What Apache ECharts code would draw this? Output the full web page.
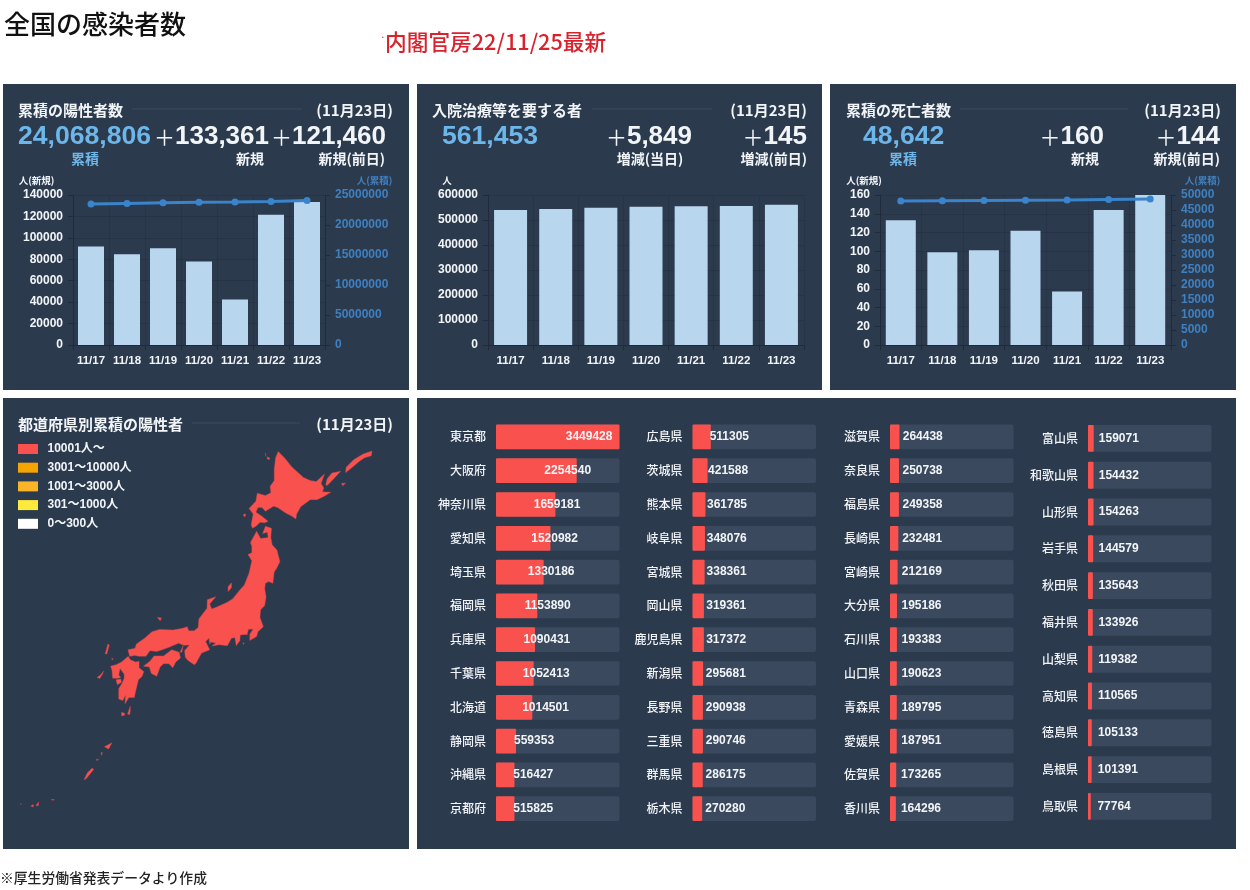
<!DOCTYPE html>
<html lang="ja"><head><meta charset="utf-8">
<style>html,body{margin:0;padding:0;background:#fff}#c{width:1250px;height:890px}</style>
<script src="https://cdn.jsdelivr.net/npm/echarts@6/dist/echarts.min.js"></script></head>
<body><div id="c"></div>
<script>
const dates=['11/17','11/18','11/19','11/20','11/21','11/22','11/23'];
const newCases=[92000,84600,90200,78000,42500,121460,133361];
const totalCases=[23518685,23603285,23693485,23771485,23813985,23935445,24068806];
const inpatients=[540000,544000,549300,553000,555459,555604,561453];
const newDeaths=[133,99,101,122,57,144,160];
const totalDeaths=[47959,48058,48159,48281,48338,48482,48642];

const col1Names=['東京都','大阪府','神奈川県','愛知県','埼玉県','福岡県','兵庫県','千葉県','北海道','静岡県','沖縄県','京都府'];
const col1Values=[3449428,2254540,1659181,1520982,1330186,1153890,1090431,1052413,1014501,559353,516427,515825];
const col2Names=['広島県','茨城県','熊本県','岐阜県','宮城県','岡山県','鹿児島県','新潟県','長野県','三重県','群馬県','栃木県'];
const col2Values=[511305,421588,361785,348076,338361,319361,317372,295681,290938,290746,286175,270280];
const col3Names=['滋賀県','奈良県','福島県','長崎県','宮崎県','大分県','石川県','山口県','青森県','愛媛県','佐賀県','香川県'];
const col3Values=[264438,250738,249358,232481,212169,195186,193383,190623,189795,187951,173265,164296];
const col4Names=['富山県','和歌山県','山形県','岩手県','秋田県','福井県','山梨県','高知県','徳島県','島根県','鳥取県'];
const col4Values=[159071,154432,154263,144579,135643,133926,119382,110565,105133,101391,77764];

const hokkaido=[[[141.94,45.52],[142.4,45.2],[142.95,44.72],[143.8,44.17],[144.3,44.0],[144.75,43.95],[145.05,44.15],[145.35,44.35],[145.1,43.85],[145.3,43.6],[145.2,43.4],[145.82,43.38],[145.3,43.15],[144.8,42.98],[144.3,42.98],[143.6,42.6],[143.3,42.2],[143.25,41.93],[142.9,42.1],[142.5,42.25],[141.9,42.55],[141.6,42.62],[141.0,42.35],[140.75,42.55],[140.45,42.55],[140.3,42.3],[140.7,42.1],[141.2,41.8],[140.95,41.72],[140.6,41.75],[140.35,41.55],[140.05,41.42],[139.95,41.6],[140.1,42.2],[139.8,42.5],[140.3,42.9],[140.4,43.33],[141.0,43.2],[141.4,43.35],[141.35,43.7],[141.65,44.0],[141.65,44.6],[141.75,45.2]],
[[141.15,45.25],[141.33,45.18],[141.27,45.1],[141.12,45.15]],[[141.0,45.45],[141.07,45.4],[141.03,45.27],[140.97,45.3]],[[139.4,42.2],[139.55,42.2],[139.5,42.05],[139.4,42.08]],
[[145.45,43.8],[145.55,44.1],[145.9,44.4],[146.55,44.5],[146.1,44.15],[145.7,43.85],[145.5,43.72]],
[[146.9,44.42],[146.95,44.7],[147.5,45.1],[148.2,45.4],[148.85,45.55],[148.8,45.3],[148.3,45.2],[147.9,45.0],[147.4,44.7]],
[[146.6,43.85],[146.9,43.87],[146.7,43.72]]];
const honshu=[[[141.0,41.53],[141.45,41.42],[141.4,40.9],[141.5,40.5],[141.85,40.2],[141.95,39.9],[142.07,39.55],[141.85,39.2],[141.65,38.95],[141.55,38.3],[141.25,38.4],[141.0,38.3],[140.95,38.0],[141.05,37.5],[140.95,37.0],[140.65,36.75],[140.6,36.3],[140.85,35.75],[140.45,35.45],[140.35,35.15],[139.85,34.92],[139.85,35.3],[140.1,35.6],[139.75,35.6],[139.65,35.25],[139.55,35.28],[139.15,35.25],[139.12,34.9],[138.85,34.6],[138.75,35.1],[138.5,35.05],[138.2,34.6],[137.6,34.66],[137.05,34.58],[137.35,34.77],[136.98,34.82],[136.9,34.7],[136.85,35.05],[136.6,34.85],[136.9,34.35],[136.5,34.22],[136.3,34.15],[135.9,33.55],[135.77,33.43],[135.3,33.7],[135.1,33.9],[135.05,34.3],[135.4,34.65],[135.0,34.62],[134.6,34.75],[133.9,34.5],[133.4,34.35],[133.0,34.25],[132.5,34.3],[132.2,33.95],[131.7,33.95],[131.4,34.0],[131.0,33.95],[130.88,34.35],[131.4,34.45],[131.5,34.7],[132.1,35.05],[132.65,35.45],[133.2,35.58],[134.2,35.55],[134.9,35.65],[135.25,35.75],[135.35,35.5],[135.75,35.5],[136.05,35.7],[136.1,36.2],[136.7,36.85],[136.72,37.35],[137.35,37.52],[136.9,37.1],[137.05,36.8],[137.5,36.95],[138.2,37.2],[138.6,37.4],[139.1,37.9],[139.45,38.2],[139.8,38.9],[140.0,39.6],[139.72,39.95],[140.0,40.05],[140.0,40.4],[139.9,40.62],[140.35,41.25],[140.65,40.85],[141.2,40.9],[141.15,41.2],[140.8,41.12]],
[[138.25,38.1],[138.5,38.33],[138.5,38.05],[138.25,37.82]],[[133.05,36.3],[133.35,36.27],[133.25,36.1]],[[134.95,34.6],[135.02,34.55],[134.85,34.2],[134.72,34.22]],[[139.35,34.78],[139.45,34.75],[139.38,34.68]]];
const shikoku=[[[132.02,33.35],[132.5,33.65],[132.8,33.98],[133.5,33.98],[134.1,34.35],[134.65,34.2],[134.75,33.85],[134.4,33.6],[134.18,33.25],[133.9,33.5],[133.5,33.5],[133.25,33.3],[133.0,32.72],[132.6,32.9],[132.45,33.3]]];
const kyushu=[[[130.9,33.95],[131.05,33.75],[131.45,33.6],[131.7,33.65],[131.7,33.25],[132.05,33.0],[131.9,32.7],[131.65,32.5],[131.45,31.8],[131.35,31.4],[130.95,31.4],[130.66,31.0],[130.7,31.55],[130.5,31.2],[130.2,31.3],[130.2,31.95],[130.45,32.3],[130.6,32.6],[130.6,32.85],[130.3,33.2],[130.2,32.8],[130.35,32.65],[130.15,32.6],[129.75,32.6],[129.7,33.1],[129.6,33.35],[130.05,33.45],[130.4,33.6]],
[[129.2,34.1],[129.4,34.7],[129.5,34.65],[129.33,34.1]],[[129.68,33.82],[129.8,33.8],[129.72,33.72]],[[128.6,32.65],[128.85,32.8],[129.1,33.05],[129.0,32.85],[128.8,32.58]],[[130.0,32.5],[130.35,32.55],[130.4,32.35],[130.1,32.2]],
[[130.85,30.35],[131.05,30.85],[131.05,30.55],[131.0,30.3]],[[130.4,30.45],[130.6,30.42],[130.65,30.28],[130.42,30.22]],[[129.15,28.25],[129.7,28.5],[129.45,28.1]],[[128.9,27.88],[129.0,27.85],[128.93,27.68]],[[128.55,27.42],[128.72,27.43],[128.6,27.33]]];
const okinawa=[[[127.65,26.1],[127.9,26.55],[128.25,26.85],[128.35,26.75],[127.85,26.2],[127.7,26.08]],[[125.25,24.78],[125.47,24.74],[125.3,24.71]],[[124.1,24.36],[124.3,24.6],[124.28,24.35]],[[123.72,24.32],[123.9,24.43],[123.92,24.26]],[[122.93,24.47],[123.05,24.47],[123.0,24.43]]];
const landNames=['北海道','本州','四国','九州','沖縄県'];
const landShapes=[hokkaido,honshu,shikoku,kyushu,okinawa];

const PANEL='#2c3a4e',WHITE='#f2f5f8',BLUE='#6db6ea',BAR='#b8d6ee',LINE='#3a84cc',AXISBLUE='#3f80c0',DARK='#1f2b3b',GRID='rgba(28,39,54,.4)',TRACK='#3a495d',RED='#f9514e';
const LATIN="'Liberation Sans','Noto Sans CJK JP',sans-serif",CJK="'Noto Sans CJK JP',sans-serif";
const graphic=[];
function rect(x,y,w,h,fill){graphic.push({type:'rect',z:-5,silent:true,shape:{x,y,width:w,height:h},style:{fill}});}
function text(x,y,t,size,fill,align,weight,fam){graphic.push({type:'text',z:20,silent:true,x,y,style:{text:t,fill,align:align||'left',verticalAlign:'middle',fontSize:size,fontWeight:weight||'bold',fontFamily:fam||CJK}});}
function plus(x,y,num){graphic.push({type:'text',z:20,silent:true,x,y,style:{text:'{p|＋}{n|'+num+'}',align:'right',verticalAlign:'middle',rich:{p:{fontSize:21,fontWeight:'normal',fontFamily:CJK,fill:WHITE},n:{fontSize:26,fontWeight:'bold',fontFamily:LATIN,fill:WHITE}}}});}
function divider(x1,x2,y){graphic.push({type:'line',z:-4,silent:true,shape:{x1,y1:y,x2,y2:y},style:{stroke:'#3a4a60',lineWidth:1}});}

[[3,84,406,306],[417,84,405,306],[830,84,406,306],[3,398,406,451],[417,398,819,451]].forEach(p=>rect(p[0],p[1],p[2],p[3],PANEL));

text(4,24,'全国の感染者数',26,'#111','left','500');
text(380,37,'·',10,'#d8222e','left','normal');
text(385,42,'内閣官房22/11/25最新',21.7,'#d8222e','left','500');
text(0,878,'※厚生労働省発表データより作成',13.8,'#222','left','500');

const dateText='(11月23日)';
text(18,110,'累積の陽性者数',15,WHITE); divider(132,302,109); text(393,110,dateText,15,WHITE,'right');
text(432,110,'入院治療等を要する者',15,WHITE); divider(592,712,109); text(807,110,dateText,15,WHITE,'right');
text(846,110,'累積の死亡者数',15,WHITE); divider(960,1128,109); text(1221,110,dateText,15,WHITE,'right');
text(18,424,'都道府県別累積の陽性者',15,WHITE); divider(192,300,423); text(393,424,dateText,15,WHITE,'right');

text(18,137,'24,068,806',26.6,BLUE,'left','bold',LATIN); plus(269,137,'133,361'); plus(386,137,'121,460');
text(85,159,'累積',14,BLUE,'center'); text(250,159,'新規',14,WHITE,'center'); text(385,159,'新規(前日)',14,WHITE,'right');
text(442,137,'561,453',26.6,BLUE,'left','bold',LATIN); plus(692,137,'5,849'); plus(807,137,'145');
text(650,159,'増減(当日)',14,WHITE,'center'); text(807,159,'増減(前日)',14,WHITE,'right');
text(863,137,'48,642',26.6,BLUE,'left','bold',LATIN); plus(1104,137,'160'); plus(1220,137,'144');
text(903,159,'累積',14,BLUE,'center'); text(1085,159,'新規',14,WHITE,'center'); text(1220,159,'新規(前日)',14,WHITE,'right');

function namePad(dx){return dx<0?[0,-2*dx,0,0]:[0,0,0,2*dx];}
const plain=v=>String(v);
const grids=[],xAxes=[],yAxes=[],series=[];
function combo(left,right,barW,bars,line,lMax,lInt,lName,lDx,rMax,rInt,rName,rDx){
  const g=grids.length; grids.push({left,width:right-left,top:195,height:150});
  xAxes.push({type:'category',gridIndex:g,data:dates,axisLine:{lineStyle:{color:DARK}},axisTick:{show:true,lineStyle:{color:DARK}},splitLine:{show:true,lineStyle:{color:GRID,width:.6}},axisLabel:{color:WHITE,fontSize:11.5,fontWeight:'bold',fontFamily:LATIN,margin:10,interval:0}});
  const yi=yAxes.length;
  yAxes.push({type:'value',gridIndex:g,min:0,max:lMax,interval:lInt,name:lName,nameLocation:'end',nameGap:10,nameTextStyle:{color:WHITE,fontSize:9.5,fontWeight:'bold',fontFamily:CJK,align:'center',padding:namePad(lDx)},axisLine:{show:true,lineStyle:{color:DARK}},axisTick:{show:true,lineStyle:{color:DARK}},splitLine:{show:true,lineStyle:{color:GRID,width:.8}},axisLabel:{color:WHITE,fontSize:12,fontWeight:'bold',fontFamily:LATIN,margin:10,formatter:plain}});
  series.push({type:'bar',xAxisIndex:g,yAxisIndex:yi,data:bars,barWidth:barW,itemStyle:{color:BAR},silent:true,z:2});
  if(line){
    yAxes.push({type:'value',gridIndex:g,position:'right',min:0,max:rMax,interval:rInt,name:rName,nameLocation:'end',nameGap:10,nameTextStyle:{color:AXISBLUE,fontSize:9.5,fontWeight:'bold',fontFamily:CJK,align:'center',padding:namePad(rDx)},axisLine:{show:true,lineStyle:{color:DARK}},axisTick:{show:true,lineStyle:{color:DARK}},splitLine:{show:false},axisLabel:{color:AXISBLUE,fontSize:12,fontWeight:'bold',fontFamily:LATIN,margin:10,formatter:plain}});
    series.push({type:'line',xAxisIndex:g,yAxisIndex:yi+1,data:line,symbol:'circle',symbolSize:7,lineStyle:{color:LINE,width:3},itemStyle:{color:LINE},silent:true,z:5});
  }
}
combo(73,325,26,newCases,totalCases,140000,20000,'人(新規)',-36.5,25000000,5000000,'人(累積)',49.5);
combo(488,804,33,inpatients,null,600000,100000,'人',-41);
combo(880,1171,30,newDeaths,totalDeaths,160,20,'人(新規)',-16,50000,5000,'人(累積)',31.5);

const barMax=col1Values[0];
function column(left,names,values){
  const g=grids.length; grids.push({left,width:123.5,top:420,height:names.length===12?405.6:404.8});
  xAxes.push({type:'value',gridIndex:g,min:0,max:barMax,show:false});
  yAxes.push({type:'category',gridIndex:g,inverse:true,data:names,axisLine:{show:false},axisTick:{show:false},splitLine:{show:false},axisLabel:{color:WHITE,fontSize:12,fontFamily:CJK,fontWeight:500,margin:10,interval:0}});
  series.push({type:'bar',xAxisIndex:g,yAxisIndex:yAxes.length-1,data:values,barWidth:'73%',silent:true,itemStyle:{color:RED,borderRadius:1},showBackground:true,backgroundStyle:{color:TRACK,borderRadius:2},label:{show:true,position:['50%','50%'],align:'left',verticalAlign:'middle',padding:[0,0,0,8],color:WHITE,fontSize:12,fontWeight:'bold',fontFamily:LATIN}});
}
column(496,col1Names,col1Values);
column(692.5,col2Names,col2Values);
column(890,col3Names,col3Values);
column(1088,col4Names,col4Values);

const allNames=[].concat(col1Names,col2Names,col3Names,col4Names);
const allValues=[].concat(col1Values,col2Values,col3Values,col4Values);
const prefValue=n=>allValues[allNames.indexOf(n)];
const shikokuPrefs=['愛媛県','香川県','高知県','徳島県'];
const kyushuPrefs=['福岡県','佐賀県','長崎県','熊本県','大分県','宮崎県','鹿児島県'];
const sum=a=>a.reduce((s,n)=>s+prefValue(n),0);
const honshuPrefs=allNames.filter(n=>!shikokuPrefs.includes(n)&&!kyushuPrefs.includes(n)&&n!=='北海道'&&n!=='沖縄県');
const landValues=[prefValue('北海道'),sum(honshuPrefs),sum(shikokuPrefs),sum(kyushuPrefs),prefValue('沖縄県')];
const geo={type:'FeatureCollection',features:landNames.map((n,i)=>({type:'Feature',properties:{name:n},geometry:{type:'MultiPolygon',coordinates:landShapes[i].map(r=>[r.concat([r[0]])])}}))};
echarts.registerMap('japan',geo);
series.push({type:'map',map:'japan',silent:true,roam:false,left:20,top:451,width:352,height:356,
  projection:{project:p=>[p[0],-Math.log(Math.tan(Math.PI/4+p[1]*Math.PI/360))*180/Math.PI],unproject:p=>[p[0],(2*Math.atan(Math.exp(-p[1]*Math.PI/180))-Math.PI/2)*360/Math.PI]},
  label:{show:false},emphasis:{disabled:true},select:{disabled:true},itemStyle:{borderColor:'#d9474a',borderWidth:.4,areaColor:RED},
  data:landNames.map((n,i)=>({name:n,value:landValues[i]}))});

const chart=echarts.init(document.getElementById('c'),null,{renderer:'canvas'});
chart.setOption({animation:false,backgroundColor:'#fff',graphic:{elements:graphic},grid:grids,xAxis:xAxes,yAxis:yAxes,series,
  visualMap:{type:'piecewise',seriesIndex:series.length-1,orient:'vertical',left:18,top:443,padding:0,itemWidth:20,itemHeight:10,itemGap:6.7,textGap:9.5,itemSymbol:'rect',hoverLink:false,selectedMode:false,textStyle:{color:WHITE,fontSize:12,fontWeight:'bold',fontFamily:LATIN},
    pieces:[{min:0,max:300,label:'0～300人',color:'#ffffff',symbol:'rect'},{min:301,max:1000,label:'301～1000人',color:'#ffe93b',symbol:'rect'},{min:1001,max:3000,label:'1001～3000人',color:'#f9b428',symbol:'rect'},{min:3001,max:10000,label:'3001～10000人',color:'#f6a400',symbol:'rect'},{min:10001,label:'10001人～',color:RED,symbol:'rect'}]}});
</script></body></html>
